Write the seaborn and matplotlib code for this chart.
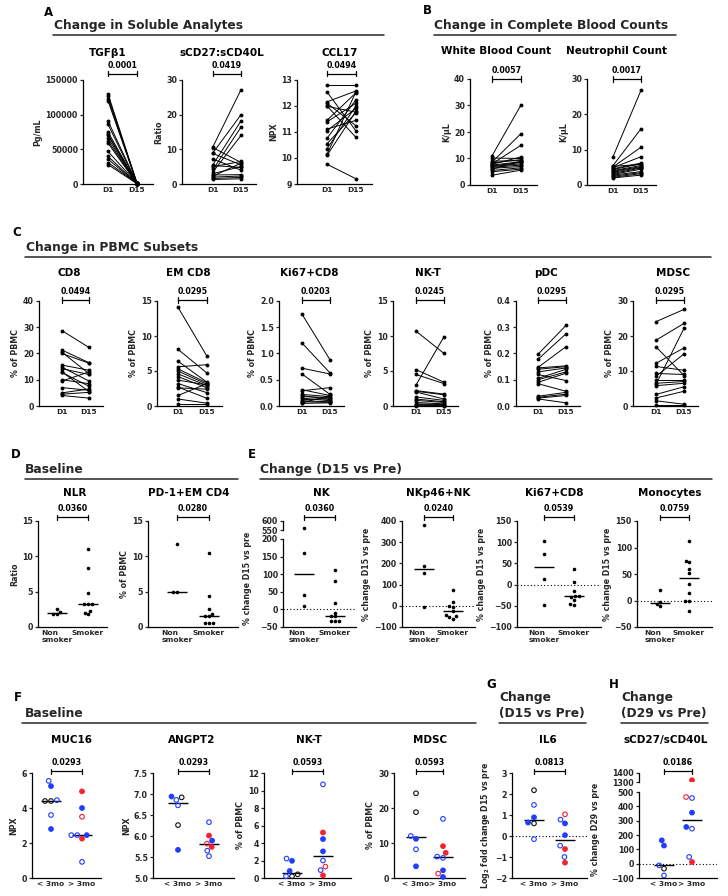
import numpy as np
import pandas as pd
import seaborn as sns
import matplotlib.pyplot as plt
import matplotlib.colors as mcolors
from matplotlib.lines import Line2D
from matplotlib.transforms import blended_transform_factory

# ---------------- data ----------------
days = ['D1', 'D15']
smoke_groups = ['Non\nsmoker', 'Smoker']
time_groups = ['< 3mo', '> 3mo']

# A - soluble analytes, paired D1 / D15
tgfb1_d1 = [130000, 127000, 123000, 120000, 91000, 86000, 75000, 72000, 70000,
            66000, 62000, 59000, 47000, 40000, 36000, 31000, 28000]
tgfb1_d15 = [1200, 800, 1500, 500, 900, 300, 1100, 600, 400, 1000, 700, 200,
             800, 500, 300, 900, 400]
scd27_d1 = [10.8, 10.5, 9.0, 8.8, 7.2, 5.6, 5.0, 4.2, 3.5, 3.0, 2.6, 2.3, 2.0, 1.6, 1.3, 5.3]
scd27_d15 = [27.2, 6.2, 20.0, 5.5, 4.0, 18.2, 6.5, 16.4, 14.0, 5.0, 2.7, 6.0, 2.3, 1.9, 1.5, 4.8]
ccl17_d1 = [12.79, 12.54, 12.16, 12.11, 12.0, 11.99, 11.45, 11.39, 11.11, 11.05,
            10.76, 10.55, 10.36, 10.14, 10.10, 9.76]
ccl17_d15 = [12.79, 11.04, 12.58, 11.24, 10.79, 11.76, 12.51, 12.11, 11.45, 11.91,
             12.24, 11.74, 12.0, 12.55, 11.8, 9.2]

# B - complete blood counts
wbc_d1 = [11.0, 10.2, 9.0, 8.6, 8.3, 8.0, 7.8, 7.5, 7.2, 7.0, 6.7, 6.3, 6.0, 5.5, 5.0, 3.7]
wbc_d15 = [30.2, 10.0, 9.2, 19.4, 9.6, 15.0, 10.6, 8.8, 8.5, 8.0, 7.5, 7.0, 9.0, 6.5, 6.0, 5.6]
neut_d1 = [8.0, 5.5, 5.3, 5.1, 4.9, 4.6, 4.4, 4.1, 3.9, 3.6, 3.3, 3.0, 2.8, 2.5, 2.2, 2.0]
neut_d15 = [26.8, 15.9, 5.8, 10.7, 8.0, 6.2, 6.0, 5.5, 5.2, 5.0, 4.8, 4.5, 3.8, 3.5, 3.2, 2.8]

# C - PBMC subsets
cd8_d1 = [28.7, 21.3, 20.5, 20.0, 15.6, 14.8, 14.2, 13.0, 12.8, 10.0, 9.5, 7.0, 5.0, 4.5, 4.0]
cd8_d15 = [22.3, 16.5, 12.3, 16.3, 13.6, 9.5, 12.0, 5.5, 7.5, 8.5, 13.0, 6.0, 6.5, 5.2, 3.0]
emcd8_d1 = [14.1, 8.1, 6.4, 5.6, 5.3, 5.0, 4.6, 4.2, 3.7, 3.2, 2.7, 2.6, 1.5, 1.0, 0.3]
emcd8_d15 = [7.1, 4.7, 3.4, 5.9, 3.3, 3.1, 2.9, 2.6, 3.0, 1.9, 1.1, 2.4, 3.2, 0.4, 0.3]
ki67_d1 = [1.75, 1.2, 0.72, 0.61, 0.31, 0.29, 0.22, 0.2, 0.18, 0.15, 0.12, 0.1, 0.08, 0.06, 0.05]
ki67_d15 = [0.88, 0.63, 0.61, 0.22, 0.2, 0.35, 0.18, 0.12, 0.16, 0.1, 0.14, 0.08, 0.07, 0.2, 0.06]
nkt_d1 = [10.7, 5.2, 4.5, 3.0, 2.2, 2.1, 2.0, 1.3, 1.0, 0.8, 0.5, 0.3, 0.2, 0.1, 0.05]
nkt_d15 = [7.5, 3.4, 3.2, 9.9, 1.7, 1.6, 1.0, 0.8, 0.6, 0.5, 0.3, 0.2, 0.1, 0.05, 0.05]
pdc_d1 = [0.197, 0.178, 0.147, 0.145, 0.14, 0.13, 0.12, 0.105, 0.1, 0.09, 0.085,
          0.037, 0.033, 0.03, 0.027]
pdc_d15 = [0.307, 0.275, 0.226, 0.153, 0.15, 0.145, 0.097, 0.14, 0.13, 0.125, 0.056,
           0.052, 0.045, 0.04, 0.012]
mdsc_d1 = [24.1, 18.8, 16.9, 12.2, 11.3, 9.3, 8.5, 7.5, 6.5, 6.2, 5.8, 3.3, 2.3, 1.5, 0.3]
mdsc_d15 = [27.6, 23.6, 8.7, 16.6, 10.2, 9.0, 14.9, 7.5, 7.0, 22.2, 6.5, 5.5, 4.2, 0.5, 0.3]

# D - baseline by smoking status
nlr_non = [2.5, 2.1, 1.9, 1.8]
nlr_smk = [11.0, 8.3, 4.8, 3.3, 3.3, 3.3, 2.2, 2.0, 1.8]
pd1_non = [11.7, 5.0, 5.0]
pd1_smk = [10.5, 4.4, 2.6, 1.8, 1.6, 1.5, 0.6, 0.5, 0.5]

# E - % change D15 vs pre by smoking status
nk_non = [560, 160, 40, 10]
nk_smk = [112, 80, 17, -9, -20, -20, -34, -34, -34]
nkp46_non = [381, 190, 157, -8]
nkp46_smk = [75, 20, 0, -5, -25, -45, -50, -55, -60]
ki67e_non = [102, 71, 14, -48]
ki67e_smk = [37, 5, -16, -26, -28, -30, -36, -45, -48]
mono_non = [20, -3, -7, -10]
mono_smk = [113, 75, 72, 60, 52, 32, 15, 0, 0, -20]

# F/G/H - by time on study; colour code b/r/k, fill 1 = filled, 0 = open
muc16_lt = [5.55, 5.25, 4.4, 4.4, 4.45, 3.6, 2.8]
muc16_lt_col = ['b', 'b', 'k', 'k', 'b', 'b', 'b']
muc16_lt_fill = [0, 1, 0, 0, 0, 0, 1]
muc16_gt = [4.95, 4.0, 3.5, 2.45, 2.45, 2.45, 2.25, 0.92]
muc16_gt_col = ['r', 'b', 'r', 'b', 'b', 'b', 'r', 'b']
muc16_gt_fill = [1, 1, 0, 0, 0, 1, 1, 0]

angpt2_lt = [6.92, 6.94, 6.86, 6.73, 6.26, 5.67]
angpt2_lt_col = ['k', 'b', 'b', 'b', 'k', 'b']
angpt2_lt_fill = [0, 1, 0, 0, 0, 1]
angpt2_gt = [6.33, 6.01, 5.89, 5.82, 5.74, 5.65, 5.52]
angpt2_gt_col = ['b', 'r', 'b', 'r', 'r', 'b', 'b']
angpt2_gt_fill = [0, 1, 1, 0, 1, 0, 0]

nktf_lt = [1.96, 2.22, 0.8, 0.2, 0.42, 0.2]
nktf_lt_col = ['b', 'b', 'b', 'k', 'k', 'b']
nktf_lt_fill = [1, 0, 1, 0, 0, 0]
nktf_gt = [10.7, 5.2, 4.45, 3.05, 2.0, 1.3, 0.9, 0.3]
nktf_gt_col = ['b', 'r', 'b', 'b', 'b', 'r', 'b', 'r']
nktf_gt_fill = [0, 1, 1, 1, 0, 0, 0, 1]

mdscf_lt = [24.2, 18.8, 12.0, 11.2, 8.2, 3.35]
mdscf_lt_col = ['k', 'k', 'b', 'b', 'b', 'b']
mdscf_lt_fill = [0, 0, 0, 1, 0, 1]
mdscf_gt = [16.9, 9.1, 7.2, 6.1, 5.75, 2.2, 1.25, 0.3]
mdscf_gt_col = ['b', 'r', 'r', 'b', 'b', 'b', 'r', 'b']
mdscf_gt_fill = [0, 1, 1, 0, 0, 1, 0, 1]

il6_lt = [2.18, 1.48, 0.89, 0.64, 0.6, -0.15]
il6_lt_col = ['k', 'b', 'b', 'b', 'k', 'b']
il6_lt_fill = [0, 0, 1, 1, 0, 0]
il6_gt = [1.03, 0.78, 0.6, 0.04, -0.46, -0.62, -1.0, -1.27]
il6_gt_col = ['r', 'b', 'b', 'b', 'b', 'r', 'b', 'r']
il6_gt_fill = [0, 0, 1, 1, 0, 1, 0, 1]

scd27h_lt = [163, 126, -12, -35, -82]
scd27h_lt_col = ['b', 'b', 'b', 'k', 'b']
scd27h_lt_fill = [1, 1, 0, 0, 0]
scd27h_gt = [1320, 465, 458, 356, 256, 244, 47, 12]
scd27h_gt_col = ['r', 'r', 'b', 'b', 'b', 'b', 'b', 'r']
scd27h_gt_fill = [1, 0, 0, 1, 1, 0, 0, 1]

COLORS = {'b': '#1f3dff', 'r': '#f5222d', 'k': '#111111'}

# ---------------- style ----------------
sns.set_style('ticks')
plt.rcParams.update({
    'font.family': ['DejaVu Sans'],
    'font.weight': 'bold',
    'axes.labelweight': 'bold',
    'axes.linewidth': 0.9,
    'axes.edgecolor': 'black',
    'xtick.labelsize': 5.4,
    'ytick.labelsize': 5.7,
    'axes.labelsize': 5.7,
    'ytick.major.size': 2.5,
    'ytick.major.width': 0.9,
    'ytick.major.pad': 1.2,
    'xtick.major.size': 0,
    'xtick.major.pad': 2.5,
    'text.color': 'black',
})

W, H = 728, 896
fig = plt.figure(figsize=(W / 100, H / 100), dpi=100)


def fx(x):
    return x / W


def fy(y):
    return 1 - y / H


def make_ax(yx, c0, c1, top, bot, right=None):
    unit = c1 - c0
    lo = -(c0 - yx) / unit
    hi = 1 + (right if right is not None else (c0 - yx) / unit)
    ax = fig.add_axes([fx(yx), fy(bot), (hi - lo) * unit / W, (bot - top) / H])
    ax.xlim_ = (lo, hi)
    return ax


def finish(ax, ylim, step, ylabel, xlabels, hide_x=False):
    ax.set_xlim(*ax.xlim_)
    ax.set_ylim(*ylim)
    ax.set_yticks(np.arange(ylim[0], ylim[1] + step / 2, step))
    sns.despine(ax=ax)
    ax.set_xlabel('')
    ax.set_ylabel(ylabel, labelpad=2)
    if hide_x:
        ax.spines['bottom'].set_visible(False)
        ax.set_xticks([])
    else:
        ax.set_xticks([0, 1], xlabels)
    ax.patch.set_alpha(0)


def bracket(ax, p, y_px):
    tr = blended_transform_factory(ax.transData, fig.transFigure)
    y = fy(y_px)
    d = 2.5 / H
    kw = dict(color='black', lw=0.9, transform=tr, clip_on=False)
    ax.add_line(Line2D([0, 1], [y, y], **kw))
    ax.add_line(Line2D([0, 0], [y - d, y + d], **kw))
    ax.add_line(Line2D([1, 1], [y - d, y + d], **kw))
    ax.text(0.5, y + 8.5 / H, p, transform=tr, ha='center', va='center',
            fontsize=5.7, weight='bold')


def title(x, y, s, size=7.5):
    fig.text(fx(x), fy(y), s, ha='center', va='center', fontsize=size, weight='bold')


def section(letter, lx, ly, lines, tx, ty, x0, x1, uy):
    fig.text(fx(lx), fy(ly), letter, ha='center', va='center', fontsize=8.5, weight='bold')
    for i, s in enumerate(lines):
        fig.text(fx(tx), fy(ty + i * 15), s, ha='left', va='center', fontsize=8.8,
                 weight='bold', color='#262626')
    fig.add_artist(Line2D([fx(x0), fx(x1)], [fy(uy), fy(uy)], transform=fig.transFigure,
                          color='#262626', lw=1.1))


def paired(ax, d1, d15):
    n = len(d1)
    df = pd.DataFrame({'pid': list(range(n)) * 2,
                       'day': [0] * n + [1] * n,
                       'value': list(d1) + list(d15)})
    sns.lineplot(data=df, x='day', y='value', units='pid', estimator=None, color='black',
                 lw=0.7, marker='o', markersize=2.8, markeredgewidth=0, legend=False, ax=ax)
    for ln in ax.lines:
        ln.set_clip_on(False)


def dots(ax, order, a, b, cols=None, fills=None, size=2.6, median=True, clip=False):
    df = pd.DataFrame({'group': [order[0]] * len(a) + [order[1]] * len(b),
                       'value': list(a) + list(b)})
    n0 = len(ax.collections)
    sns.swarmplot(data=df, x='group', y='value', order=order, color='black', size=size, ax=ax)
    new = ax.collections[n0:]
    if cols is not None:
        df['col'] = [COLORS[c] for c in cols[0] + cols[1]]
        df['fill'] = list(fills[0]) + list(fills[1])
        for coll, g in zip(new, order):
            sub = df[df['group'] == g]
            fc = [mcolors.to_rgba(c) if f else (1, 1, 1, 0) for c, f in zip(sub['col'], sub['fill'])]
            coll.set_facecolors(fc)
            coll.set_edgecolors(list(sub['col']))
            coll.set_linewidths(0.8)
    for coll in new:
        coll.set_clip_on(clip)
        coll.set_zorder(3)
    if median:
        sns.pointplot(data=df, x='group', y='value', order=order, estimator='median',
                      errorbar=None, color='black', marker='_', markersize=15,
                      markeredgewidth=1.0, linestyle='none', ax=ax)


def zero_line(ax):
    ax.axhline(0, color='black', lw=0.8, ls=(0, (1, 2)), zorder=0)


def smoker_labels(ax):
    # GraphPad-style wrapped label: "Non" over the point, "smoker" nudged left
    labels = ax.get_xticklabels()
    labels[0].set_horizontalalignment('center')
    labels[0].set_multialignment('left')


# ---------------- A ----------------
section('A', 48, 12, ['Change in Soluble Analytes'], 54, 26, 53, 384, 35)
rowA = [
    ('TGFβ1', tgfb1_d1, tgfb1_d15, (0, 150000), 50000, 'Pg/mL', 83, 108, 137, '0.0001', 108),
    ('sCD27:sCD40L', scd27_d1, scd27_d15, (0, 30), 10, 'Ratio', 182, 213, 241, '0.0419', 222),
    ('CCL17', ccl17_d1, ccl17_d15, (9, 13), 1, 'NPX', 297, 327, 356, '0.0494', 340),
]
for name, d1, d15, ylim, step, ylab, yx, c0, c1, p, tx in rowA:
    ax = make_ax(yx, c0, c1, 80, 184, right=0.55)
    paired(ax, d1, d15)
    finish(ax, ylim, step, ylab, days)
    bracket(ax, p, 74)
    title(tx, 53, name)

# ---------------- B ----------------
section('B', 427, 11, ['Change in Complete Blood Counts'], 434, 26, 434, 676, 35)
rowB = [
    ('White Blood Count', wbc_d1, wbc_d15, (0, 40), 10, 'K/µL', 470, 492, 521, '0.0057', 496),
    ('Neutrophil Count', neut_d1, neut_d15, (0, 30), 10, 'K/µL', 587, 613, 641, '0.0017', 617),
]
for name, d1, d15, ylim, step, ylab, yx, c0, c1, p, tx in rowB:
    ax = make_ax(yx, c0, c1, 79, 185, right=0.55)
    paired(ax, d1, d15)
    finish(ax, ylim, step, ylab, days)
    bracket(ax, p, 79)
    title(tx, 51, name)

# ---------------- C ----------------
section('C', 17, 232, ['Change in PBMC Subsets'], 26, 248, 25, 711, 257)
rowC = [
    ('CD8', cd8_d1, cd8_d15, (0, 40), 10, 39, 62, 89, '0.0494', 69),
    ('EM CD8', emcd8_d1, emcd8_d15, (0, 15), 5, 157, 178, 207, '0.0295', 188),
    ('Ki67+CD8', ki67_d1, ki67_d15, (0, 2.0), 0.5, 279, 302, 330, '0.0203', 309),
    ('NK-T', nkt_d1, nkt_d15, (0, 15), 5, 393, 416, 444, '0.0245', 428),
    ('pDC', pdc_d1, pdc_d15, (0, 0.4), 0.1, 516, 538, 566, '0.0295', 546),
    ('MDSC', mdsc_d1, mdsc_d15, (0, 30), 10, 633, 656, 684, '0.0295', 673),
]
for name, d1, d15, ylim, step, yx, c0, c1, p, tx in rowC:
    ax = make_ax(yx, c0, c1, 301, 406, right=0.5)
    paired(ax, d1, d15)
    finish(ax, ylim, step, '% of PBMC', days)
    if step < 1:
        ax.yaxis.set_major_formatter(plt.FormatStrFormatter('%.1f'))
    bracket(ax, p, 300)
    title(tx, 273, name)

# ---------------- D ----------------
section('D', 16, 454, ['Baseline'], 25, 469, 25, 238, 479)
rowD = [
    ('NLR', nlr_non, nlr_smk, 'Ratio', 38, 57, 88, '0.0360', 75),
    ('PD-1+EM CD4', pd1_non, pd1_smk, '% of PBMC', 148, 177, 209, '0.0280', 189),
]
for name, a, b, ylab, yx, c0, c1, p, tx in rowD:
    ax = make_ax(yx, c0, c1, 521, 627)
    dots(ax, smoke_groups, a, b)
    finish(ax, (0, 15), 5, ylab, smoke_groups)
    smoker_labels(ax)
    bracket(ax, p, 517)
    title(tx, 493, name)

# ---------------- E ----------------
section('E', 252, 454, ['Change (D15 vs Pre)'], 260, 469, 260, 712, 479)
ylab_e = '% change D15 vs pre'

# NK with broken axis
ax_t = make_ax(283, 304, 335, 521, 530)
dots(ax_t, smoke_groups, nk_non, nk_smk, median=False, clip=True)
finish(ax_t, (550, 600), 50, '', smoke_groups, hide_x=True)
ax = make_ax(283, 304, 335, 539, 627)
zero_line(ax)
dots(ax, smoke_groups, nk_non, nk_smk, clip=True)
finish(ax, (-50, 200), 50, ylab_e, smoke_groups)
smoker_labels(ax)
ax.yaxis.set_label_coords(-0.42, 0.55)
bracket(ax, '0.0360', 517)
title(321, 493, 'NK')

rowE = [
    ('NKp46+NK', nkp46_non, nkp46_smk, (-100, 400), 100, 402, 424, 453, '0.0240', 438),
    ('Ki67+CD8', ki67e_non, ki67e_smk, (-100, 150), 50, 517, 544, 574, '0.0539', 554),
    ('Monocytes', mono_non, mono_smk, (-50, 150), 50, 637, 660, 689, '0.0759', 670),
]
for name, a, b, ylim, step, yx, c0, c1, p, tx in rowE:
    ax = make_ax(yx, c0, c1, 521, 627)
    zero_line(ax)
    dots(ax, smoke_groups, a, b)
    finish(ax, ylim, step, ylab_e, smoke_groups)
    smoker_labels(ax)
    bracket(ax, p, 517)
    title(tx, 493, name)

# ---------------- F ----------------
section('F', 18, 697, ['Baseline'], 25, 713, 22, 476, 723)
rowF = [
    ('MUC16', muc16_lt, muc16_gt, muc16_lt_col, muc16_gt_col, muc16_lt_fill, muc16_gt_fill,
     (0, 6), 2, 'NPX', 32, 51, 82, '0.0293', 71),
    ('ANGPT2', angpt2_lt, angpt2_gt, angpt2_lt_col, angpt2_gt_col, angpt2_lt_fill, angpt2_gt_fill,
     (5.0, 7.5), 0.5, 'NPX', 153, 178, 209, '0.0293', 192),
    ('NK-T', nktf_lt, nktf_gt, nktf_lt_col, nktf_gt_col, nktf_lt_fill, nktf_gt_fill,
     (0, 12), 2, '% of PBMC', 264, 292, 323, '0.0593', 309),
    ('MDSC', mdscf_lt, mdscf_gt, mdscf_lt_col, mdscf_gt_col, mdscf_lt_fill, mdscf_gt_fill,
     (0, 30), 10, '% of PBMC', 394, 416, 443, '0.0593', 430),
]
for name, a, b, ca, cb, fa, fb, ylim, step, ylab, yx, c0, c1, p, tx in rowF:
    ax = make_ax(yx, c0, c1, 773, 878)
    dots(ax, time_groups, a, b, cols=(ca, cb), fills=(fa, fb), size=3.3)
    finish(ax, ylim, step, ylab, time_groups)
    if step < 1:
        ax.yaxis.set_major_formatter(plt.FormatStrFormatter('%.1f'))
    bracket(ax, p, 771)
    title(tx, 740, name)

# ---------------- G ----------------
section('G', 491, 684, ['Change', '(D15 vs Pre)'], 499, 698, 499, 586, 723)
ax = make_ax(512, 534, 565, 773, 878)
zero_line(ax)
dots(ax, time_groups, il6_lt, il6_gt, cols=(il6_lt_col, il6_gt_col),
     fills=(il6_lt_fill, il6_gt_fill), size=3.3)
finish(ax, (-2, 3), 1, r'Log$_{\mathbf{2}}$ fold change D15 vs pre', time_groups)
bracket(ax, '0.0813', 771)
title(548, 740, 'IL6')

# ---------------- H ----------------
section('H', 614, 684, ['Change', '(D29 vs Pre)'], 621, 698, 621, 708, 723)
ax_t = make_ax(639, 664, 692, 773, 782)
dots(ax_t, time_groups, scd27h_lt, scd27h_gt, cols=(scd27h_lt_col, scd27h_gt_col),
     fills=(scd27h_lt_fill, scd27h_gt_fill), size=3.3, median=False, clip=True)
finish(ax_t, (1300, 1400), 100, '', time_groups, hide_x=True)
ax = make_ax(639, 664, 692, 792, 878)
zero_line(ax)
dots(ax, time_groups, scd27h_lt, scd27h_gt, cols=(scd27h_lt_col, scd27h_gt_col),
     fills=(scd27h_lt_fill, scd27h_gt_fill), size=3.3, clip=True)
finish(ax, (-100, 500), 100, '% change D29 vs pre', time_groups)
ax.yaxis.set_label_coords(-0.5, 0.56)
bracket(ax, '0.0186', 771)
title(666, 740, 'sCD27/sCD40L')

fig.savefig('out.png', dpi=100)
